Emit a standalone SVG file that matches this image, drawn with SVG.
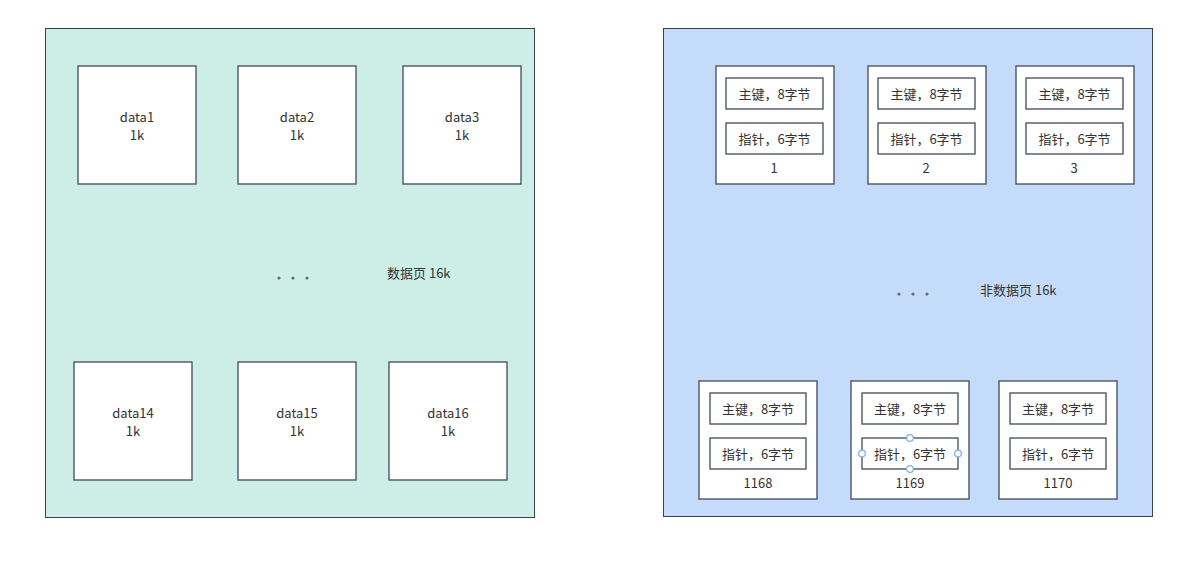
<svg xmlns="http://www.w3.org/2000/svg" width="1200" height="568" viewBox="0 0 1200 568">
<style>
.bg{fill:#ffffff}
.page{stroke:#36424f;stroke-width:1}
.box{fill:#ffffff;stroke:#404b59;stroke-width:1.3}
.t{font-family:"Noto Sans CJK SC","Microsoft YaHei",sans-serif;font-size:13px;fill:#333333;text-anchor:middle;dominant-baseline:central}
.tl{font-family:"Noto Sans CJK SC","Microsoft YaHei",sans-serif;font-size:13px;fill:#333333;dominant-baseline:central}
.dot{fill:#6b6b6b}
.h{fill:#ffffff;stroke:#7fb2ea;stroke-width:1.3}
</style>
<rect class="bg" x="0" y="0" width="1200" height="568"/>

<g id="page-data">
<rect class="page" x="45.5" y="28.5" width="489" height="489" fill="#cdeee6"/>
<g class="dot"><circle cx="279" cy="278" r="1.6"/><circle cx="293" cy="278" r="1.6"/><circle cx="307" cy="278" r="1.6"/></g>
<text class="tl" x="387" y="272">数据页 16k</text>
</g>

<g id="data1"><rect class="box" x="78" y="66" width="118" height="118"/><text class="t" x="137" y="116">data1</text><text class="t" x="137" y="134">1k</text></g>
<g id="data2"><rect class="box" x="238" y="66" width="118" height="118"/><text class="t" x="297" y="116">data2</text><text class="t" x="297" y="134">1k</text></g>
<g id="data3"><rect class="box" x="403" y="66" width="118" height="118"/><text class="t" x="462" y="116">data3</text><text class="t" x="462" y="134">1k</text></g>
<g id="data14"><rect class="box" x="74" y="362" width="118" height="118"/><text class="t" x="133" y="412">data14</text><text class="t" x="133" y="430">1k</text></g>
<g id="data15"><rect class="box" x="238" y="362" width="118" height="118"/><text class="t" x="297" y="412">data15</text><text class="t" x="297" y="430">1k</text></g>
<g id="data16"><rect class="box" x="389" y="362" width="118" height="118"/><text class="t" x="448" y="412">data16</text><text class="t" x="448" y="430">1k</text></g>

<g id="page-index">
<rect class="page" x="663.5" y="28.5" width="489" height="488" fill="#c5dbfa"/>
<g class="dot"><circle cx="899" cy="294" r="1.6"/><circle cx="913" cy="294" r="1.6"/><circle cx="927" cy="294" r="1.6"/></g>
<text class="tl" x="980" y="289">非数据页 16k</text>
</g>

<g id="node1">
<rect class="box" x="716" y="66" width="118" height="118"/>
<rect class="box" x="726" y="78" width="97" height="31"/><text class="t" x="774.5" y="93">主键，8字节</text>
<rect class="box" x="726" y="123" width="97" height="31"/><text class="t" x="774.5" y="138">指针，6字节</text>
<text class="t" x="774" y="167">1</text>
</g>
<g id="node2">
<rect class="box" x="868" y="66" width="118" height="118"/>
<rect class="box" x="878" y="78" width="97" height="31"/><text class="t" x="926.5" y="93">主键，8字节</text>
<rect class="box" x="878" y="123" width="97" height="31"/><text class="t" x="926.5" y="138">指针，6字节</text>
<text class="t" x="926" y="167">2</text>
</g>
<g id="node3">
<rect class="box" x="1016" y="66" width="118" height="118"/>
<rect class="box" x="1026" y="78" width="97" height="31"/><text class="t" x="1074.5" y="93">主键，8字节</text>
<rect class="box" x="1026" y="123" width="97" height="31"/><text class="t" x="1074.5" y="138">指针，6字节</text>
<text class="t" x="1074" y="167">3</text>
</g>
<g id="node1168">
<rect class="box" x="699" y="381" width="118" height="118"/>
<rect class="box" x="710" y="393" width="96" height="31"/><text class="t" x="758" y="408">主键，8字节</text>
<rect class="box" x="710" y="438" width="96" height="31"/><text class="t" x="758" y="453">指针，6字节</text>
<text class="t" x="758" y="482">1168</text>
</g>
<g id="node1169">
<rect class="box" x="851" y="381" width="118" height="118"/>
<rect class="box" x="862" y="393" width="96" height="31"/><text class="t" x="910" y="408">主键，8字节</text>
<rect class="box" x="862" y="438" width="96" height="31"/><text class="t" x="910" y="453">指针，6字节</text>
<text class="t" x="910" y="482">1169</text>
<circle class="h" cx="910" cy="438" r="3.3"/>
<circle class="h" cx="910" cy="469" r="3.3"/>
<circle class="h" cx="862" cy="453.5" r="3.3"/>
<circle class="h" cx="958" cy="453.5" r="3.3"/>
</g>
<g id="node1170">
<rect class="box" x="999" y="381" width="118" height="118"/>
<rect class="box" x="1010" y="393" width="96" height="31"/><text class="t" x="1058" y="408">主键，8字节</text>
<rect class="box" x="1010" y="438" width="96" height="31"/><text class="t" x="1058" y="453">指针，6字节</text>
<text class="t" x="1058" y="482">1170</text>
</g>
<g id="connectors"></g>
</svg>
